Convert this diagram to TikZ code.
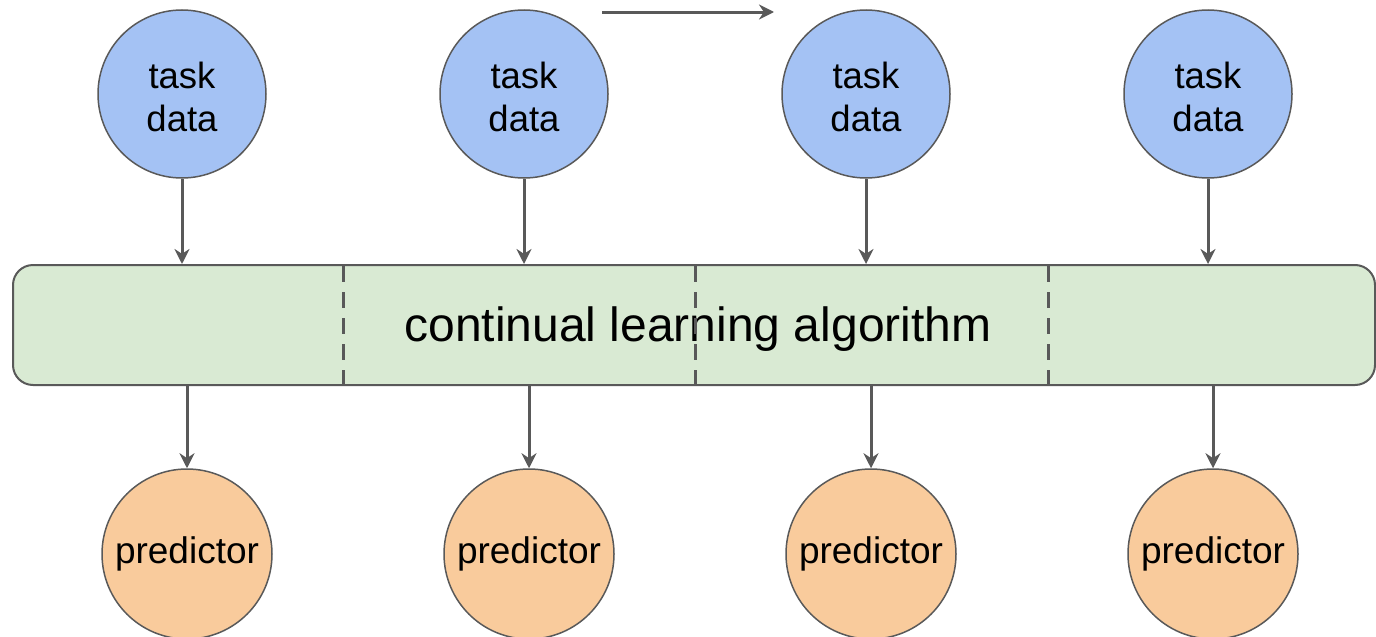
\documentclass[tikz,border=0pt]{standalone}
\usepackage{fontspec}
\setmainfont{Liberation Sans}
\usetikzlibrary{arrows.meta}
\definecolor{taskblue}{HTML}{A4C2F4}
\definecolor{predorange}{HTML}{F9CB9C}
\definecolor{algogreen}{HTML}{D9EAD3}
\definecolor{ink}{HTML}{595959}
\tikzset{
  taskcirc/.style={circle, draw=ink, line width=1.5pt, fill=taskblue, minimum size=168pt,
    inner sep=0pt, align=center, font=\fontsize{36.5}{43}\selectfont},
  predcirc/.style={circle, draw=ink, line width=1.5pt, fill=predorange, minimum size=170pt,
    inner sep=0pt, font=\fontsize{37}{41}\selectfont},
  algobox/.style={rectangle, rounded corners=20pt, draw=ink, line width=2pt, fill=algogreen,
    minimum width=1362pt, minimum height=120pt, inner sep=0pt},
  algolabel/.style={font=\fontsize{48}{56}\selectfont},
  flow/.style={draw=ink, line width=3pt, -{Stealth[length=15pt, width=15pt]}},
  split/.style={draw=ink, line width=3pt, dash pattern=on 16pt off 10pt}
}
\begin{document}
\begin{tikzpicture}[x=1pt, y=-1pt]
\useasboundingbox (0,0) rectangle (1376,637);
% continual learning block
\node[algobox] (alg) at (694,325) {};
\node[algolabel] (algtext) at (698,329) {continual learning algorithm};
% task separators
\foreach \i/\x in {1/343, 2/695, 3/1048} {
  \coordinate (s\i a) at (\x,266);
  \coordinate (s\i b) at (\x,384);
  \draw[split] (s\i a) -- (s\i b);
}
% task data inputs
\foreach \i/\x in {1/182, 2/524, 3/866, 4/1208} {
  \node[taskcirc] (t\i) at (\x,94) {};
  \node[taskcirc, draw=none, fill=none] (tl\i) at (\x,97) {task\\data};
  \draw[flow] (t\i.south) -- (t\i.south |- alg.north);
}
% predictors
\foreach \i/\x in {1/187, 2/529, 3/871, 4/1213} {
  \node[predcirc] (p\i) at (\x,554) {predictor};
  \draw[flow] (p\i.north |- alg.south) -- (p\i.north);
}
% time direction
\coordinate (ta) at (602,12);
\coordinate (tb) at (774,12);
\draw[flow] (ta) -- (tb);
\end{tikzpicture}
\end{document}
